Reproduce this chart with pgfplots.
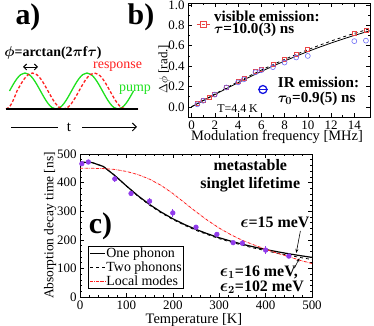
\documentclass[border=0pt]{standalone}
\usepackage{fontspec}
\setmainfont{Liberation Serif}
\usepackage{bm}
\usepackage{pgfplots}
\pgfplotsset{compat=1.18}
\usetikzlibrary{arrows.meta}
\definecolor{vis}{RGB}{235,70,70}
\definecolor{irb}{RGB}{110,110,245}
\definecolor{irleg}{RGB}{20,20,225}
\definecolor{purp}{RGB}{145,60,235}
\definecolor{pgreen}{RGB}{30,225,30}
\definecolor{pred}{RGB}{255,30,30}
\newcommand{\fs}[1]{\fontsize{#1}{#1}\selectfont}
\newcommand{\legfont}{\fontsize{14}{14}\selectfont}

\pgfplotsset{
  panel/.style={
    scale only axis, anchor=south west,
    /pgf/number format/assume math mode=true,
    tick label style={font=\fs{13}},
    axis line style={line width=0.7pt},
    every tick/.style={black, line width=0.5pt},
    major tick length=4bp, minor tick length=2bp,
  }
}

\begin{document}
\begin{tikzpicture}
\path[use as bounding box] (0,0) rectangle (374bp,326bp);

% ---- a) schematic
\begin{scope}[x=1bp,y=1bp]
\draw[pgreen, line width=1.3pt] (9.5,235) sin (25,253) cos (40.5,235) sin (56,217)
  cos (71.5,235) sin (87,253) cos (102.5,235) sin (118,217) cos (133.5,235);
\draw[pred, line width=1.3pt, dash pattern=on 3pt off 2pt] (6,217) cos (17,235)
  sin (32.5,253) cos (48,235) sin (63.5,217) cos (79,235) sin (94.5,253)
  cos (110,235) sin (125.5,217) -- (138,217);
\draw[line width=1.6pt] (6,217) -- (138,217);
\draw[line width=1pt] (11,199) -- (58,199);
\draw[line width=1pt, -{Straight Barb[length=4pt]}] (82,199) -- (137,199);
\node[font=\fs{15}] at (69,199) {t};
\draw[{Straight Barb[length=3pt]}-{Straight Barb[length=3pt]}, line width=1pt] (23,259) -- (38,259);
\node[font=\bfseries\fs{14}] at (53,273) {$\bm{\phi}$=arctan(2$\bm{\pi}$f$\bm{\tau}$)};
\node[pred, font=\fs{14}, anchor=west, inner sep=0] at (93,259) {response};
\node[pgreen, font=\fs{14}, anchor=west, inner sep=0] at (119,236) {pump};
\node[font=\bfseries\fs{30}] at (28,309) {a)};
\node[font=\bfseries\fs{30}] at (141,309) {b)};
\end{scope}

% ---- b) phase shift vs modulation frequency
\begin{axis}[panel, at={(188bp,209bp)}, width=182bp, height=114bp,
  xmin=-0.3, xmax=15.35, ymin=-0.1, ymax=1.02,
  xtick={0,2,...,14}, ytick={0,0.2,0.4,0.6,0.8,1},
  minor x tick num=1, minor y tick num=1,
  yticklabel style={/pgf/number format/.cd, fixed, fixed zerofill, precision=1},
  xlabel={Modulation frequency [MHz]},
  ylabel={$\Delta\phi$ [rad.]},
  every axis x label/.style={at={(axis description cs:0.489,-0.178)}, anchor=center, font=\fs{14.5}},
  every axis y label/.style={at={(axis description cs:-0.132,0.42)}, rotate=90, anchor=center, font=\fs{13}},
]
\addplot[black, line width=0.8pt] coordinates {
  (0,0) (1,0.0602) (2,0.1200) (3,0.1790) (4,0.2368) (5,0.2929) (6,0.3474)
  (7,0.3995) (8,0.4495) (9,0.4977) (10,0.5430) (11,0.5857) (12,0.6264)
  (13,0.6650) (14,0.7015) (15,0.7356) (15.4,0.7486)};
\addplot[black, dashed, line width=0.8pt] coordinates {
  (0,0) (1,0.0627) (2,0.1250) (3,0.1863) (4,0.2462) (5,0.3044) (6,0.3605)
  (7,0.4144) (8,0.4657) (9,0.5147) (10,0.5609) (11,0.6048) (12,0.6460)
  (13,0.6850) (14,0.7216) (15,0.7558) (15.4,0.7690)};
\addplot[vis, only marks, mark=square, mark size=2pt, line width=0.6pt] coordinates {
  (0.5,0.03) (1,0.065) (1.5,0.095) (2,0.125) (3,0.19) (4,0.25) (4.5,0.28)
  (5.5,0.345) (6,0.365) (7,0.42) (8,0.47) (9,0.52) (10,0.565) (14,0.72) (15,0.75)};
\addplot[irb, only marks, mark=o, mark size=2.5pt, line width=0.6pt] coordinates {
  (0.5,0.025) (1,0.06) (2,0.12) (3,0.19) (4,0.24) (4.5,0.27) (5.5,0.34)
  (6,0.36) (7,0.39) (8,0.435) (9,0.485) (10,0.5) (14,0.645) (15,0.65)};
% legend glyphs
\addplot[vis, densely dashed, line width=0.8pt] coordinates {(0.45,0.81) (1.65,0.81)};
\addplot[vis, only marks, mark=square, mark size=3.2pt, line width=0.9pt] coordinates {(1.05,0.81)};
\addplot[irleg, line width=1.2pt] coordinates {(5.7,0.17) (6.6,0.17)};
\addplot[irleg, only marks, mark=o, mark size=4pt, line width=1.3pt] coordinates {(6.14,0.17)};
\node[anchor=west, inner sep=0, font=\bfseries\fs{15.2}] at (axis cs:1.92,0.89) {visible emission:};
\node[anchor=west, inner sep=0, font=\bfseries\fs{15.2}] at (axis cs:1.92,0.755) {$\bm{\tau}$=10.0(3) ns};
\node[anchor=west, inner sep=0, font=\bfseries\fs{15.2}] at (axis cs:7.42,0.238) {IR emission:};
\node[anchor=west, inner sep=0, font=\bfseries\fs{15.2}] at (axis cs:7.42,0.075) {$\bm{\tau_0}$=0.9(5) ns};
\node[anchor=west, inner sep=0, font=\fs{12}] at (axis cs:2.2,-0.02) {T=4.4 K};
\end{axis}

% ---- c) decay time vs temperature
\begin{axis}[panel, at={(80bp,29bp)}, width=232bp, height=143bp,
  xmin=0, xmax=500, ymin=0, ymax=500,
  xtick={0,100,...,500}, ytick={0,100,...,500},
  minor x tick num=4, minor y tick num=4,
  xlabel={Temperature [K]},
  ylabel={Absorption decay time [ns]},
  every axis x label/.style={at={(axis description cs:0.491,-0.161)}, anchor=center, font=\fs{14.5}},
  every axis y label/.style={at={(axis description cs:-0.129,0.5)}, rotate=90, anchor=center, font=\fs{13.5}},
  legend style={at={(axis cs:18,178)}, anchor=north west, draw=black, line width=0.5pt,
    inner sep=1pt, row sep=1.5pt, font=\legfont,
    nodes={inner sep=0.6pt, font=\legfont}, cells={anchor=west}},
  legend image code/.code={\draw[#1] (0bp,0bp) -- (15bp,0bp);},
]
\addplot[black, line width=1.2pt] coordinates {
  (0,471) (25,470.6) (50,456.5) (75,424.8) (100,388.4) (125,354.0) (150,323.4)
  (175,296.8) (200,273.7) (225,253.7) (250,236.3) (275,220.9) (300,207.3)
  (325,195.3) (350,184.5) (375,174.9) (400,166.2) (425,158.3) (450,151.1)
  (475,144.5) (500,138.5)};
\addlegendentry{\legfont One phonon}
\addplot[black, dashed, line width=0.8pt] coordinates {
  (0,471) (25,471) (50,457) (75,425) (100,388) (125,352) (150,321) (175,294)
  (200,271) (225,251) (250,233) (275,218) (300,204) (325,192) (350,181)
  (375,171) (400,162) (425,153) (450,146) (475,138) (500,131)};
\addlegendentry{\legfont Two phonons}
\addplot[pred, densely dash dot, line width=0.8pt] coordinates {
  (0,450) (25,450) (50,449) (75,446) (100,439) (125,428) (150,412) (175,390)
  (200,362) (225,330) (250,298) (275,268) (300,241) (325,218) (350,198)
  (375,182) (400,167) (425,153) (450,141) (475,128) (500,117)};
\addlegendentry{\legfont Local modes}
\addplot[purp, only marks, mark=*, mark size=2.4pt, forget plot,
  error bars/.cd, y dir=both, y explicit, error mark=none,
  error bar style={purp, line width=1.2pt}] coordinates {
  (4,466) +- (0,8) (18,472) +- (0,5) (75,413) +- (0,10) (110,362) +- (0,10)
  (150,335) +- (0,12) (200,294) +- (0,15) (250,244) +- (0,6) (295,219) +- (0,5)
  (330,190) +- (0,5) (350,188) +- (0,10) (400,164) +- (0,15) (450,143) +- (0,5)};
\node[font=\bfseries\fs{16}, inner sep=0] at (axis cs:367,461) {metastable};
\node[font=\bfseries\fs{16}, inner sep=0] at (axis cs:367,392) {singlet lifetime};
\node[font=\bfseries\fs{30}, inner sep=0] at (axis cs:44,248) {c)};
\node[font=\bfseries\fs{16}, inner sep=0] at (axis cs:420,262) {$\bm{\epsilon}$=15 meV};
\draw[-{Stealth[length=4pt]}, line width=0.6pt] (axis cs:475,231) -- (axis cs:466,154);
\draw[-{Stealth[length=4pt]}, line width=0.6pt] (axis cs:462,101) -- (axis cs:473,136);
\node[anchor=west, inner sep=0, font=\bfseries\fs{16}] at (axis cs:301,87) {$\bm{\epsilon_1}$=16 meV,};
\node[anchor=west, inner sep=0, font=\bfseries\fs{16}] at (axis cs:301,35) {$\bm{\epsilon_2}$=102 meV};
\end{axis}
\end{tikzpicture}
\end{document}
